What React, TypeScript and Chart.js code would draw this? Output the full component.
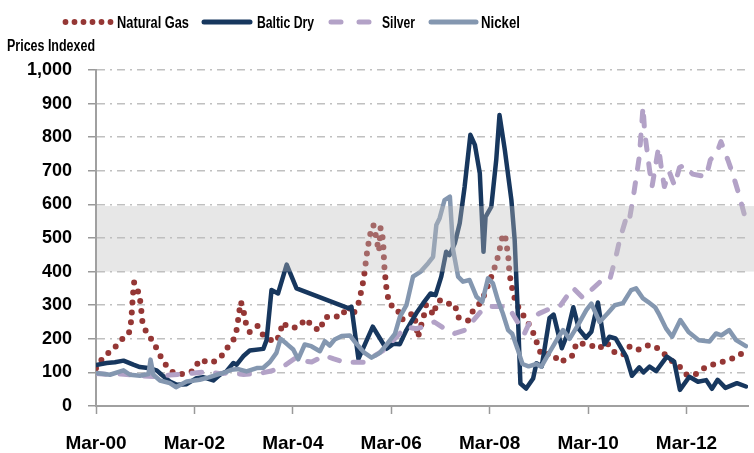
import React, { useEffect, useRef } from "react";
import { Chart, registerables } from "chart.js";

Chart.register(...registerables);

// x values are months counted from Mar-2000 (0 = Mar-00)
const MONTH_NAMES = ["Jan", "Feb", "Mar", "Apr", "May", "Jun", "Jul", "Aug", "Sep", "Oct", "Nov", "Dec"];
const FIRST_MONTH = 2; // March
const FIRST_YEAR = 2000;
const X_MAX = 159;
const xTickMonths = [0, 24, 48, 72, 96, 120, 144];
const Y_MAX = 1000;
const Y_STEP = 100;
const BAND_LOW = 400;
const BAND_HIGH = 595;

const seriesNames = ["Natural Gas", "Baltic Dry", "Silver", "Nickel"];
const yAxisTitle = "Prices Indexed";

const naturalGas: [number, number][] = [
  [0, 112], [2, 150], [4, 165], [6, 195], [8, 215], [8.6, 254], [9, 330], [9.3, 368], [10.6, 331], [11, 290],
  [11.3, 253], [12.3, 218], [14, 191], [15.4, 155], [17, 123], [19, 97], [21, 95], [23.7, 104], [25.3, 138],
  [28, 128], [30.2, 141], [31.8, 170], [33.5, 196], [34.4, 231], [34.8, 270], [35.3, 310], [35.9, 290],
  [36.4, 252], [37.5, 220], [39.4, 238], [40.9, 208], [43.6, 190], [44.9, 212], [45.4, 248], [47.1, 233],
  [49.3, 234], [51.2, 259], [53, 233], [54.7, 225], [55.6, 262], [57.6, 269], [59.6, 264], [61.5, 297],
  [62.7, 272], [64, 305], [64.7, 342], [65.3, 379], [65.7, 419], [66.1, 457], [66.6, 495], [67.3, 537],
  [67.8, 537], [68.4, 495], [69, 460], [69.4, 530], [70, 495], [70.3, 418], [70.6, 378], [70.9, 341],
  [71.6, 302], [73.4, 292], [74.5, 256], [77.3, 276], [78.1, 244], [78.5, 204], [80, 271], [80.5, 301],
  [82.4, 271], [83, 305], [83.8, 315], [85, 305], [87.5, 303], [88.3, 264], [90.7, 254], [92.1, 287],
  [94, 310], [95.2, 347], [96.4, 385], [97.5, 422], [98.3, 457], [98.9, 496], [99.7, 512], [100.2, 474],
  [100.6, 437], [100.8, 397], [101.3, 360], [102.1, 320], [103.3, 285], [104.9, 258], [106.5, 222],
  [108.6, 152], [111, 156], [113.4, 129], [115, 145], [116.2, 150], [117.2, 188], [120.3, 183], [122.6, 170],
  [124.5, 190], [126.2, 162], [128.5, 152], [130, 177], [132, 166], [135, 182], [137.4, 170], [139.8, 140],
  [142.2, 119], [144.2, 91], [146.3, 95], [149, 119], [151.5, 126], [154, 137], [156.5, 147], [158.5, 167],
];

const balticDry: [number, number][] = [
  [0, 122], [2.6, 128], [4.6, 130], [6.7, 135], [9.1, 123], [10.7, 116], [12.7, 113], [14.8, 106], [16, 93],
  [18, 73], [19.7, 63], [22.1, 65], [24.5, 83], [26.1, 86], [28.6, 76], [30.2, 93], [31.8, 103], [33.5, 128],
  [34.3, 123], [35.9, 148], [37.5, 165], [40.8, 170], [41.6, 196], [42.8, 345], [44.4, 335], [46.5, 421],
  [48.9, 350], [61.5, 291], [62.3, 295], [64, 140], [67.5, 236], [70.8, 170], [72.5, 185], [74.1, 184],
  [75.7, 226], [78.1, 276], [79.8, 306], [81.6, 335], [82.8, 330], [84.2, 385], [85.4, 459], [86.2, 449],
  [87.5, 484], [88.7, 544], [89.9, 653], [91.3, 807], [92.4, 777], [93.6, 692], [94.5, 459], [95, 563],
  [96.4, 593], [97.6, 732], [98.4, 866], [99.7, 762], [101.3, 613], [102.1, 494], [102.9, 266], [103.5, 67],
  [104.9, 52], [106.6, 82], [107.4, 127], [108.7, 118], [110.6, 262], [111.6, 272], [113.6, 172], [114.7, 206],
  [116.4, 294], [117.8, 228], [119.5, 203], [120.8, 221], [122.4, 308], [124, 184], [125.2, 206], [126.7, 201],
  [129.3, 147], [130.7, 90], [132.5, 115], [133.5, 100], [135, 117], [136.6, 104], [139.2, 147], [141, 132],
  [142.4, 48], [144.7, 87], [146.8, 72], [148.8, 77], [150.2, 51], [151.6, 78], [153.5, 54], [156.3, 68],
  [158.5, 58],
];

const silver: [number, number][] = [
  [0, 97], [3, 94], [6, 95], [9, 92], [11, 90], [14, 88], [18, 92], [21, 95], [24, 98], [27, 102], [30, 97],
  [33, 98], [36, 94], [40, 97], [43, 105], [45.6, 117], [48.3, 140], [50, 135], [52.6, 131], [55.8, 150],
  [58, 140], [60.7, 130], [66, 130], [68, 150], [70, 165], [72, 190], [74.1, 216], [75.7, 236], [78, 230],
  [80, 236], [82.5, 250], [85, 230], [87.5, 216], [90, 226], [94.2, 286], [96, 296], [100.5, 296],
  [102.5, 256], [104.5, 216], [106, 256], [108, 275], [110.4, 288], [113.3, 300], [116.3, 352], [118.7, 322],
  [122.8, 368], [125.2, 372], [126.9, 450], [127.7, 494], [129.5, 568], [130.1, 556], [131, 620], [132.5, 742],
  [133.4, 891], [133.8, 815], [135, 702], [135.6, 653], [137.2, 770], [137.9, 705], [138.6, 653], [139.8, 697],
  [141.1, 656], [142.3, 710], [143.5, 717], [145.5, 690], [148.8, 682], [149.8, 732], [151.6, 760],
  [152.4, 787], [154.1, 732], [155.3, 690], [156.9, 625], [158.1, 570],
];

const nickel: [number, number][] = [
  [0, 98], [3.4, 93], [6.7, 106], [8.3, 93], [10.7, 90], [12.8, 95], [13.3, 138], [14, 93], [15.6, 76],
  [18, 68], [19.5, 56], [22.1, 73], [25.3, 78], [27.5, 85], [29.4, 93], [31.5, 100], [33, 108], [34.7, 110],
  [36.7, 103], [39.2, 113], [40.8, 114], [42.4, 131], [44, 158], [45, 200], [46.5, 185], [48.1, 168],
  [49.3, 139], [50.9, 183], [52.5, 178], [54.6, 163], [55.8, 193], [57, 180], [58.2, 198], [59.9, 208],
  [61.9, 210], [63.5, 185], [65.5, 158], [67.2, 144], [69.2, 158], [71, 185], [72.9, 215], [74.1, 265],
  [75.7, 300], [77.3, 385], [79.2, 400], [81, 425], [82.2, 444], [83, 539], [83.8, 559], [85, 613],
  [86.3, 623], [87.1, 464], [88.3, 385], [89.5, 370], [91.1, 375], [92.8, 325], [94.2, 310], [95.6, 380],
  [96.8, 365], [98, 315], [99.2, 276], [100.5, 226], [101.5, 215], [102.8, 170], [104, 125], [105.5, 118],
  [107.4, 125], [108.6, 117], [110.6, 160], [112.5, 200], [113.9, 226], [115.5, 200], [117.5, 240],
  [119.6, 286], [120.8, 305], [122.8, 250], [124.8, 276], [126.5, 300], [128.5, 306], [130.5, 345],
  [131.7, 350], [133.4, 320], [134.6, 310], [136.4, 293], [137.4, 271], [139, 231], [140.5, 206], [142.5, 256],
  [144.5, 220], [147, 196], [149.6, 192], [151.2, 216], [152.5, 210], [154.4, 226], [156.1, 196], [158.5, 178],
];

const COLORS = {
  gas: "#953735",
  baltic: "#17375E",
  silver: "#B3A2C7",
  nickel: "#8497B0",
};

const TICK_FONT = "'Liberation Sans', Arial, sans-serif";

function monthLabel(m: number): string {
  const t = FIRST_MONTH + m;
  const year = FIRST_YEAR + Math.floor(t / 12);
  return MONTH_NAMES[t % 12] + "-" + String(year % 100).padStart(2, "0");
}

const toPoints = (arr: [number, number][]) => arr.map(([x, y]) => ({ x, y }));

// draws text compressed horizontally to a given width (imitates a narrow bold face)
function fitText(ctx: CanvasRenderingContext2D, text: string, x: number, baseline: number, width: number, size: number) {
  ctx.font = `bold ${size}px ${TICK_FONT}`;
  const w = ctx.measureText(text).width;
  ctx.save();
  ctx.translate(x, baseline);
  ctx.scale(width / w, 1);
  ctx.fillText(text, 0, 0);
  ctx.restore();
}

const bandPlugin = {
  id: "band",
  afterDatasetsDraw(chart: any) {
    const { ctx, chartArea, scales } = chart;
    const y = scales.y;
    const top = y.getPixelForValue(BAND_HIGH);
    const bottom = y.getPixelForValue(BAND_LOW);
    ctx.save();
    ctx.fillStyle = "rgba(190,190,190,0.37)";
    ctx.fillRect(chartArea.left + 1, top, chart.width - chartArea.left - 1, bottom - top);
    ctx.restore();
  },
};

const legendPlugin = {
  id: "customLegend",
  afterDraw(chart: any) {
    const ctx = chart.ctx;
    ctx.save();
    const ly = 22;
    ctx.fillStyle = COLORS.gas;
    for (let i = 0; i < 6; i++) {
      ctx.beginPath();
      ctx.arc(65.5 + i * 9, ly, 2.9, 0, Math.PI * 2);
      ctx.fill();
    }
    ctx.lineCap = "round";
    ctx.lineWidth = 5;
    ctx.strokeStyle = COLORS.baltic;
    ctx.beginPath();
    ctx.moveTo(204, ly);
    ctx.lineTo(250, ly);
    ctx.stroke();
    ctx.strokeStyle = COLORS.silver;
    ctx.beginPath();
    ctx.moveTo(331, ly);
    ctx.lineTo(341, ly);
    ctx.moveTo(359, ly);
    ctx.lineTo(369, ly);
    ctx.stroke();
    ctx.strokeStyle = COLORS.nickel;
    ctx.beginPath();
    ctx.moveTo(431, ly);
    ctx.lineTo(476, ly);
    ctx.stroke();

    ctx.fillStyle = "#000";
    ctx.textBaseline = "alphabetic";
    ctx.textAlign = "left";
    fitText(ctx, seriesNames[0], 117, 27.5, 72, 16.5);
    fitText(ctx, seriesNames[1], 257, 27.5, 57, 16.5);
    fitText(ctx, seriesNames[2], 382, 27.5, 33, 16.5);
    fitText(ctx, seriesNames[3], 481, 27.5, 39, 16.5);
    fitText(ctx, yAxisTitle, 7, 51, 88, 16);
    ctx.restore();
  },
};

export default function App() {
  const canvasRef = useRef<HTMLCanvasElement | null>(null);

  useEffect(() => {
    if (!canvasRef.current) return;
    const common = {
      pointRadius: 0,
      tension: 0,
      fill: false,
      borderJoinStyle: "round",
      borderCapStyle: "round",
    };
    const chart = new Chart(canvasRef.current, {
      type: "line",
      data: {
        datasets: [
          {
            ...common,
            label: seriesNames[0],
            data: toPoints(naturalGas),
            borderColor: COLORS.gas,
            borderWidth: 6,
            borderDash: [0, 10],
            order: 4,
          },
          {
            ...common,
            label: seriesNames[1],
            data: toPoints(balticDry),
            borderColor: COLORS.baltic,
            borderWidth: 4.5,
            order: 3,
          },
          {
            ...common,
            label: seriesNames[2],
            data: toPoints(silver),
            borderColor: COLORS.silver,
            borderWidth: 5,
            borderDash: [10, 14],
            order: 2,
          },
          {
            ...common,
            label: seriesNames[3],
            data: toPoints(nickel),
            borderColor: COLORS.nickel,
            borderWidth: 4.5,
            order: 1,
          },
        ],
      },
      options: {
        responsive: false,
        animation: false,
        devicePixelRatio: 1,
        layout: { padding: { top: 70, right: 6, left: 0, bottom: 0 } },
        plugins: {
          legend: { display: false },
          title: { display: false },
          tooltip: { enabled: false },
        },
        scales: {
          x: {
            type: "linear",
            min: 0,
            max: X_MAX,
            afterBuildTicks: (scale: any) => {
              scale.ticks = xTickMonths.map((v) => ({ value: v }));
            },
            afterFit: (scale: any) => {
              scale.height = 47;
            },
            ticks: {
              autoSkip: false,
              maxRotation: 0,
              padding: 18,
              color: "#000",
              font: { family: TICK_FONT, size: 19, weight: "bold" },
              callback: (v: any) => monthLabel(Number(v)),
            },
            grid: {
              drawOnChartArea: false,
              drawTicks: true,
              tickLength: 8,
              tickColor: "#999",
              tickWidth: 1.5,
            },
            border: { display: true, color: "#a0a0a0", width: 2 },
          },
          y: {
            min: 0,
            max: Y_MAX,
            afterFit: (scale: any) => {
              scale.width = 96;
            },
            ticks: {
              stepSize: Y_STEP,
              padding: 16,
              color: "#000",
              font: { family: TICK_FONT, size: 18, weight: "bold" },
              callback: (v: any) => Number(v).toLocaleString("en-US"),
            },
            grid: {
              color: "#c0c0c0",
              lineWidth: 1.5,
              drawTicks: true,
              tickLength: 8,
              tickColor: "#999",
              tickWidth: 1.5,
            },
            border: { display: true, color: "#a0a0a0", width: 2, dash: [8, 5, 2, 5] },
          },
        },
      },
      plugins: [bandPlugin, legendPlugin],
    } as any);
    return () => chart.destroy();
  }, []);

  return (
    <div style={{ position: "fixed", left: 0, top: 0, width: 754, height: 453, background: "#fff" }}>
      <canvas ref={canvasRef} width={754} height={453} style={{ display: "block", width: 754, height: 453 }} />
    </div>
  );
}
